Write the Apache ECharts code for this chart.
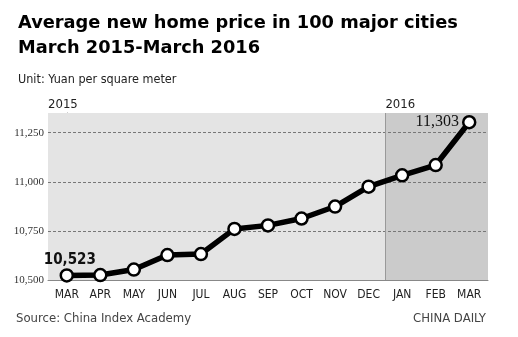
<!DOCTYPE html>
<html>
<head>
<meta charset="utf-8">
<script src="https://cdn.jsdelivr.net/npm/echarts@6/dist/echarts.min.js"></script>
<style>html,body{margin:0;padding:0;background:#fff;}#c{width:518px;height:337px;}</style>
</head>
<body>
<div id="c"></div>
<script>
var categories = ['MAR','APR','MAY','JUN','JUL','AUG','SEP','OCT','NOV','DEC','JAN','FEB','MAR'];
var prices = [10523, 10525, 10553, 10627, 10632, 10760, 10778, 10813, 10874, 10975, 11033, 11085, 11303];
var yTicks = [10500, 10750, 11000, 11250];
var years = ['2015', '2016'];
var yearStartIndex = [0, 10];
var labeledIndex = [0, 12];

var NARROW = '"DejaVu Sans Condensed", "Liberation Sans Narrow", "Arial Narrow", sans-serif';
var chart = echarts.init(document.getElementById('c'), null, {renderer: 'canvas'});
var xMin = -0.56, xMax = 12.56;
var data = prices.map(function (v, i) {
  var item = {value: [i, v]};
  if (i === labeledIndex[0]) {
    item.label = {show: true, position: 'top', distance: 1, offset: [3, 0],
      fontFamily: NARROW, fontWeight: 'bold', fontSize: 15, color: '#111'};
  } else if (i === labeledIndex[1]) {
    item.label = {show: true, position: 'left', distance: 3, offset: [0, 0],
      fontFamily: 'Liberation Serif', fontSize: 16, color: '#111'};
  }
  return item;
});
var fmt = function (v) { return v.toLocaleString('en-US'); };

chart.setOption({
  animation: false,
  backgroundColor: '#ffffff',
  title: [
    {text: 'Average new home price in 100 major cities\nMarch 2015-March 2016', left: 18, top: 11, padding: 0,
      textStyle: {fontFamily: 'DejaVu Sans', fontWeight: 'bold', fontSize: 17.8, lineHeight: 25, color: '#000'}},
    {text: 'Unit: Yuan per square meter', left: 18, top: 73, padding: 0,
      textStyle: {fontFamily: NARROW, fontWeight: 'normal', fontSize: 12.5, color: '#222'}},
    {text: 'Source: China Index Academy', left: 16, top: 312, padding: 0,
      textStyle: {fontFamily: NARROW, fontWeight: 'normal', fontSize: 13, color: '#444'}},
    {text: 'CHINA DAILY', right: 32, top: 312, padding: 0,
      textStyle: {fontFamily: NARROW, fontWeight: 'normal', fontSize: 13, color: '#444'}}
  ],
  grid: {left: 48, right: 30, top: 113, bottom: 57},
  xAxis: {
    type: 'value', min: xMin, max: xMax,
    axisLine: {show: true, onZero: false, lineStyle: {color: '#888', width: 1}},
    axisTick: {show: false},
    splitLine: {show: false},
    axisLabel: {
      customValues: categories.map(function (c, i) { return i; }),
      formatter: function (v) { return categories[Math.round(v)] || ''; },
      fontFamily: NARROW, fontSize: 12, color: '#222', margin: 9
    }
  },
  yAxis: {
    type: 'value', min: 10500, max: 11350,
    axisLine: {show: true, lineStyle: {color: '#888', width: 1}},
    axisTick: {show: false},
    splitLine: {show: false},
    axisLabel: {
      customValues: yTicks,
      formatter: fmt,
      fontFamily: 'Liberation Serif', fontSize: 11, color: '#333', margin: 4
    }
  },
  series: [{
    type: 'line',
    data: data,
    z: 5,
    lineStyle: {color: '#000', width: 5.5},
    symbol: 'circle', symbolSize: 12,
    itemStyle: {color: '#fff', borderColor: '#000', borderWidth: 2.5},
    label: {show: false, formatter: function (p) { return fmt(p.value[1]); }},
    markArea: {
      silent: true,
      data: [
        [{xAxis: xMin, itemStyle: {color: '#e4e4e4'},
          label: {show: true, formatter: years[0], position: [0, -15], fontFamily: NARROW, fontSize: 13, color: '#222'}},
         {xAxis: yearStartIndex[1] - 0.5, yAxis: 11350}],
        [{xAxis: yearStartIndex[1] - 0.5, itemStyle: {color: '#cbcbcb'},
          label: {show: true, formatter: years[1], position: [0, -15], fontFamily: NARROW, fontSize: 13, color: '#222'}},
         {xAxis: xMax, yAxis: 11350}]
      ]
    },
    markLine: {
      silent: true,
      symbol: 'none',
      label: {show: false},
      data: yTicks.slice(1).map(function (t) {
        return {yAxis: t, lineStyle: {color: '#777', type: [3, 2], width: 1}};
      }).concat([{xAxis: yearStartIndex[1] - 0.5, lineStyle: {color: '#999', type: 'solid', width: 1}}])
    }
  }]
});
</script>
</body>
</html>
